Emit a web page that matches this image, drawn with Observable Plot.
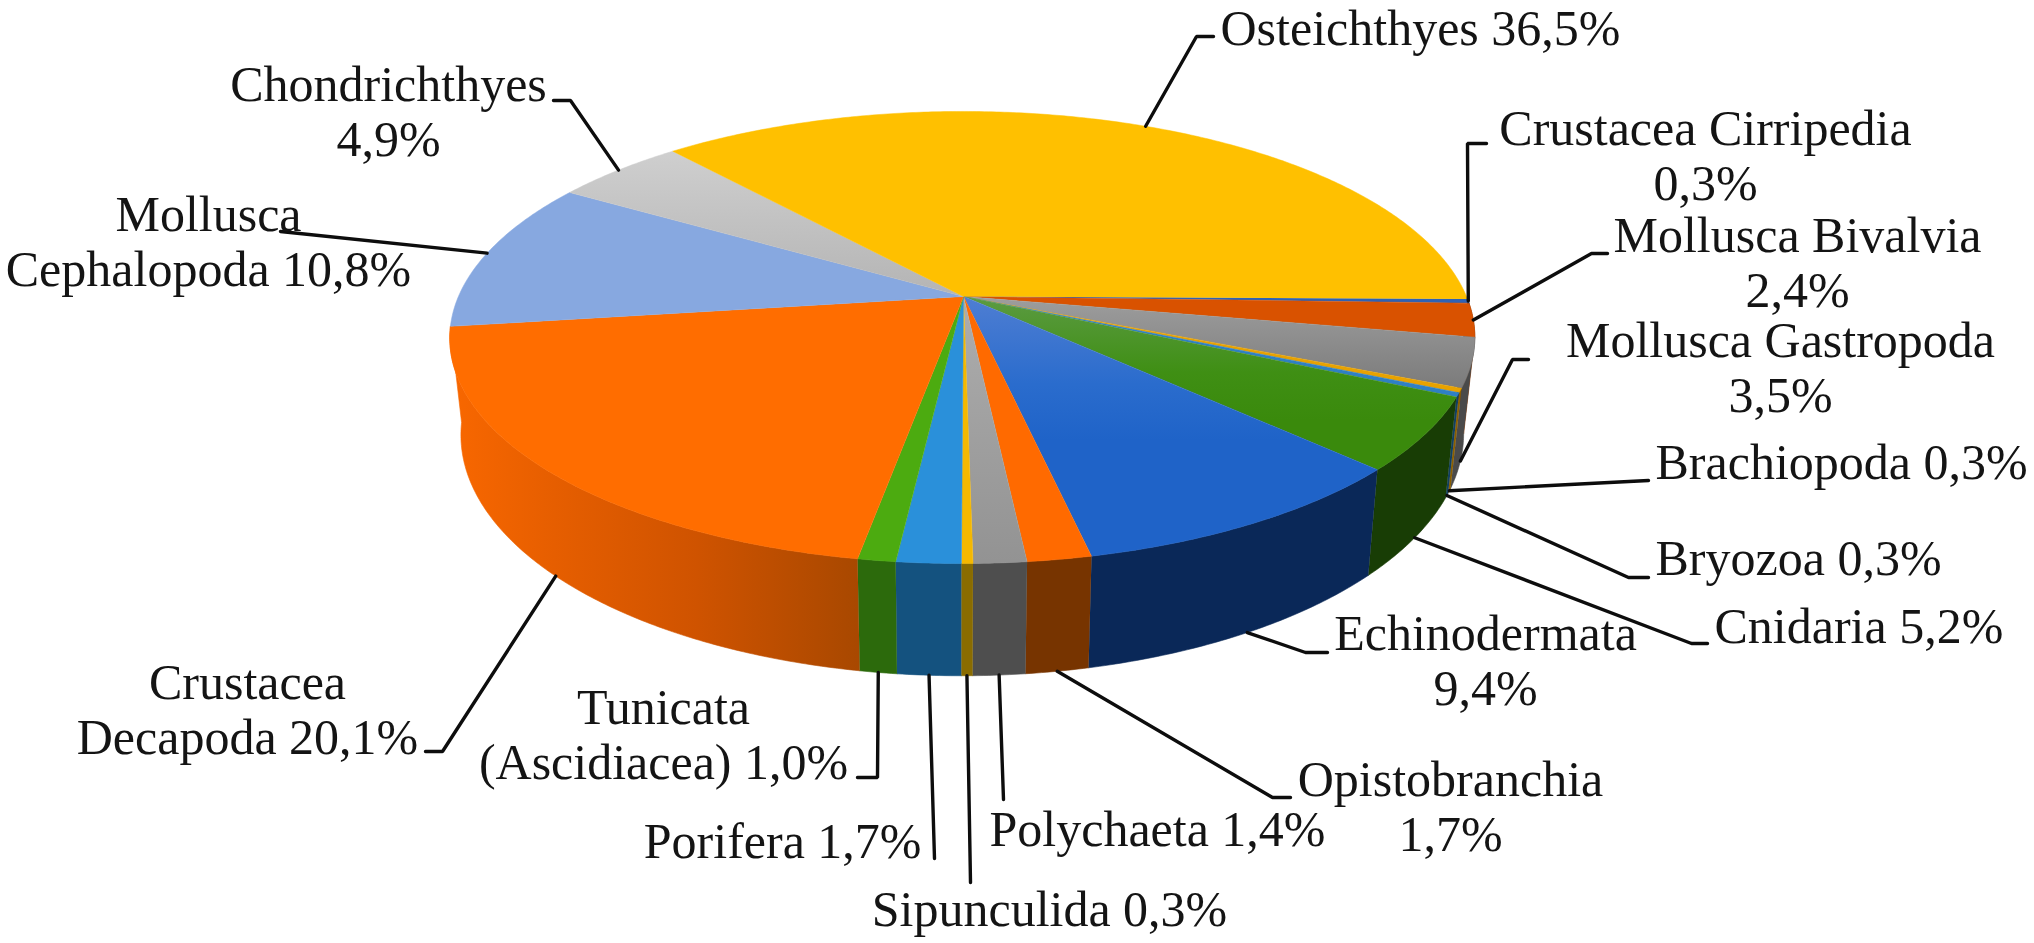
<!DOCTYPE html>
<html>
<head>
<meta charset="utf-8">
<script src="https://cdn.jsdelivr.net/npm/d3@7"></script>
<script src="https://cdn.jsdelivr.net/npm/@observablehq/plot@0.6"></script>
<style>
html,body{margin:0;padding:0;background:#fff;overflow:hidden}
</style>
</head>
<body>
<div id="chart"></div>
<script>
// ---- data (clockwise from 3 o'clock) ----
const categories = ["Crustacea Cirripedia","Mollusca Bivalvia","Mollusca Gastropoda","Brachiopoda","Bryozoa","Cnidaria","Echinodermata","Opistobranchia","Polychaeta","Sipunculida","Porifera","Tunicata\n(Ascidiacea)","Crustacea\nDecapoda","Mollusca\nCephalopoda","Chondrichthyes","Osteichthyes"];
const values = [0.3,2.4,3.5,0.3,0.3,5.2,9.4,1.7,1.4,0.3,1.7,1.0,20.1,10.8,4.9,36.5];
const valueOnNewLine = [true,true,true,false,false,false,true,true,false,false,false,false,false,false,true,false];

// ---- styles ----
const topColors = ["#2f62b4","#d95200","url(#gGastro)","#e8a200","#2f80c4","url(#gCnid)","url(#gEchino)","#ff6a00","url(#gPoly)","#f5b800","#2a90da","#4cab10","#ff6d00","#87a8e0","url(#gChond)","#ffc000"];
const sideColors = ["#1a3a6a","#7a3000","#4a4a4a","#8a5e00","#123f60","#183d05","#0a2858","#773400","#4e4e4e","#8a6c00","#14527f","#2c6a0c","url(#gDeca)","#4d6488","#777777","#8f7000"];

// ---- layout: label position (x, last baseline, anchor) and leader bend points ----
const labelX = [1705,1797,1780,1655,1655,1714,1485,1450,1157,1049,921,663,247,208,388,1220];
const labelY = [199,306,411,478,574,642,704,850,845,925,857,778,753,285,155,44];
const labelAnchor = ["middle","middle","middle","start","start","start","middle","middle","middle","middle","end","middle","middle","middle","middle","start"];
const leaderBends = [
  [[1467,143],[1486,143]],
  [[1591,253],[1607,253]],
  [[1512,359],[1528,359]],
  [[1648,480]],
  [[1628,577],[1648,577]],
  [[1691,643],[1707,643]],
  [[1305,652],[1327,652]],
  [[1272,797],[1290,797]],
  [[1003,799]],
  [[970,882]],
  [[934,858]],
  [[877,777],[857,777]],
  [[442,751],[425,751]],
  [[280,231]],
  [[570,100],[553,100]],
  [[1196,36],[1213,36]]
];

// ---- pie projection ----
const total = d3.sum(values);
const ends = Array.from(d3.cumsum(values));
const starts = ends.map((e, i) => e - values[i]);
const persp = 0.1814, shearX = -6.5, shearY = 2.5, apexX = 963;
const topRim = {ay: 296, A: 504, B: 218.6};
const botRim = {ay: 390, A: 493, B: 233.5};
function project(p, r) {
  const a = 2 * Math.PI * p / total, X = Math.cos(a), Y = Math.sin(a), d = 1 - persp * Y;
  return {x: apexX + (r.A * X + shearX * Y) / d, y: r.ay + (r.B * Y + shearY * X) / d};
}
function arc(p0, p1, r) {
  const n = Math.max(2, Math.ceil((p1 - p0) / 0.15));
  return d3.range(n + 1).map(i => project(p0 + (p1 - p0) * i / n, r));
}
const apex = {x: apexX, y: topRim.ay};

const wedge = i => [apex, ...arc(starts[i], ends[i], topRim)];
const sideWall = i => [...arc(starts[i], ends[i], topRim), ...arc(starts[i], ends[i], botRim).reverse()];

// sides are seen from the start of the pie to the end of Decapoda
const frontSlices = d3.range(values.length).filter(i => (starts[i] + ends[i]) / 2 < 0.5 * total);
const midP = i => (starts[i] + ends[i]) / 2;
const leaderAnchor = i => {
  const m = midP(i);
  return project(m, (m < 3 || m > 0.5 * total) ? topRim : botRim);
};

const labelText = categories.map((c, i) => c + (valueOnNewLine[i] ? "\n" : " ") + values[i].toFixed(1).replace(".", ",") + "%");

function defs() {
  const d = d3.create("svg:defs");
  const grad = (id, x1, y1, x2, y2, stops) => {
    const g = d.append("linearGradient").attr("id", id).attr("gradientUnits", "userSpaceOnUse")
      .attr("x1", x1).attr("y1", y1).attr("x2", x2).attr("y2", y2);
    stops.forEach(([o, c]) => g.append("stop").attr("offset", o).attr("stop-color", c));
  };
  grad("gGastro", 0, 300, 0, 385, [[0, "#9c9c9c"], [1, "#7c7c7c"]]);
  grad("gCnid", 0, 300, 0, 420, [[0, "#5a9a40"], [0.6, "#3f8f14"], [1, "#3a8a0c"]]);
  grad("gEchino", 0, 300, 0, 440, [[0, "#4d7dd2"], [0.6, "#2a6ccd"], [1, "#1f63c8"]]);
  grad("gPoly", 0, 300, 0, 560, [[0, "#adadad"], [1, "#939393"]]);
  grad("gChond", 0, 150, 0, 296, [[0, "#cfcfcf"], [1, "#b4b4b4"]]);
  grad("gDeca", 452, 0, 860, 0, [[0, "#f86700"], [0.25, "#e65e00"], [0.6, "#cf5300"], [1, "#a84800"]]);
  return d.node();
}

const marks = [defs];
for (const i of frontSlices) {
  marks.push(Plot.line(sideWall(i), {x: "x", y: "y", fill: sideColors[i], stroke: sideColors[i], strokeWidth: 0.6}));
}
values.forEach((v, i) => {
  marks.push(Plot.line(wedge(i), {x: "x", y: "y", fill: topColors[i], stroke: topColors[i], strokeWidth: 0.5}));
});
values.forEach((v, i) => {
  const a = leaderAnchor(i);
  const pts = [a, ...leaderBends[i].map(([x, y]) => ({x, y}))];
  marks.push(Plot.line(pts, {x: "x", y: "y", stroke: "#0d0d0d", strokeWidth: 3.4, strokeLinejoin: "miter"}));
});
values.forEach((v, i) => {
  marks.push(Plot.text([{x: labelX[i], y: labelY[i], t: labelText[i]}], {
    x: "x", y: "y", text: "t", textAnchor: labelAnchor[i], lineAnchor: "bottom", lineHeight: 1.1,
    fontSize: 50, fontFamily: "Liberation Serif", fill: "#141414"
  }));
});

const chart = Plot.plot({
  width: 2034, height: 943,
  marginTop: 0, marginRight: 0, marginBottom: 0, marginLeft: 0,
  x: {domain: [0, 2034], range: [0, 2034], axis: null},
  y: {domain: [0, 943], range: [0, 943], axis: null},
  style: {background: "#fff", filter: "blur(0.7px)", display: "block"},
  marks
});
document.getElementById("chart").appendChild(chart);
</script>
</body>
</html>
